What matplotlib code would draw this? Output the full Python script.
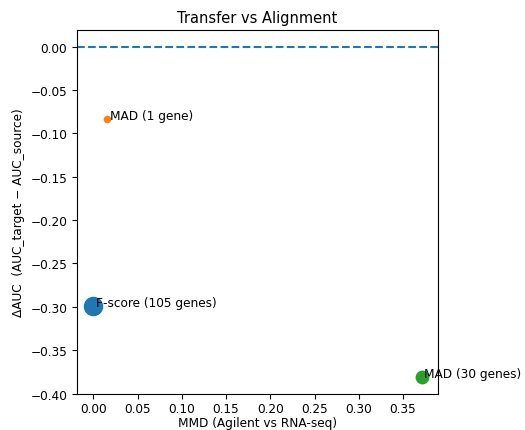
import matplotlib
matplotlib.use("Agg")
import matplotlib.pyplot as plt

plt.rcParams["font.size"] = 8.75

labels = ["F-score (105 genes)", "MAD (1 gene)", "MAD (30 genes)"]
mmd = [0.0, 0.0158, 0.371]
delta_auc = [-0.2986, -0.083, -0.3815]
marker_area = [170, 20, 80]

fig = plt.figure(figsize=(5.25, 4.31), dpi=100)
ax = fig.add_axes([77/525, 1-395/431, (438-77)/525, (395-31)/431])
for lab, x, y, s in zip(labels, mmd, delta_auc, marker_area):
    ax.scatter([x], [y], s=s)
    ax.text(x + 0.003, y, lab)
ax.axhline(0, linestyle="--")
ax.tick_params(axis="x", pad=2.5)
ax.set_xlabel("MMD (Agilent vs RNA-seq)", labelpad=0.5)
ax.set_ylabel("ΔAUC  (AUC_target − AUC_source)")
ax.set_title("Transfer vs Alignment")
fig.savefig("out.png", dpi=100)
